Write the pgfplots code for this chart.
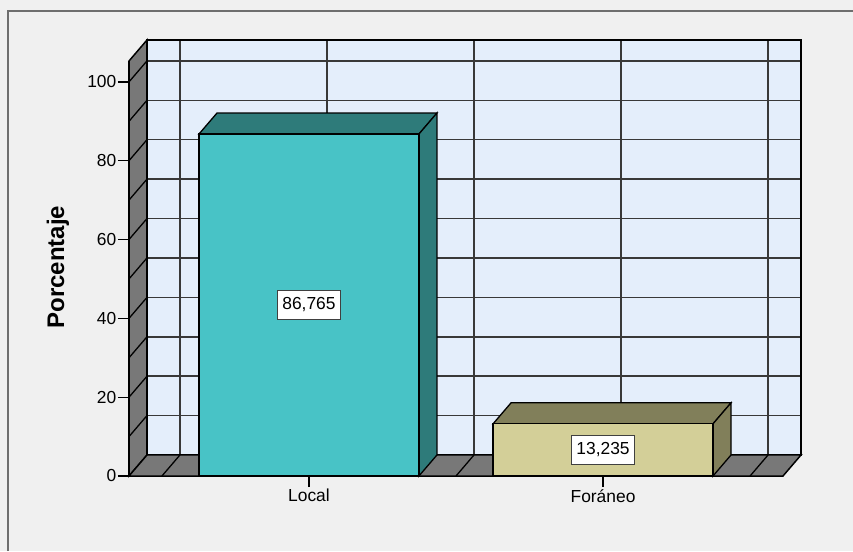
\documentclass[border=0pt]{standalone}
\usepackage{fontspec}
\setmainfont{Liberation Sans}
\setsansfont{Liberation Sans}
\usepackage{pgfplots}
\pgfplotsset{compat=1.18}
\definecolor{bgc}{HTML}{F0F0F0}
\definecolor{bordc}{HTML}{6E6E6E}
\definecolor{wallc}{HTML}{E4EEFB}
\definecolor{sidec}{HTML}{787878}
\definecolor{gridc}{HTML}{383838}
\definecolor{localf}{HTML}{48C3C6}
\definecolor{locald}{HTML}{2E7B7A}
\definecolor{forf}{HTML}{D3CF98}
\definecolor{ford}{HTML}{817F5A}
\begin{document}
\begin{tikzpicture}[x=1pt,y=1pt]
\useasboundingbox (0,0) rectangle (853,551);
\fill[bgc] (0,0) rectangle (853,551);
\draw[bordc, line width=2pt] (8,0) -- (8,540) -- (853,540);
\begin{axis}[
  at={(129pt,75pt)}, anchor=south west,
  scale only axis, width=654pt, height=415pt,
  xmin=0.388, xmax=2.612, ymin=0, ymax=105.3,
  clip=false,
  axis x line*=bottom, axis y line*=left,
  axis line style={black, line width=1.5pt},
  xtick={1,2}, xticklabels={Local,Foráneo},
  ytick={0,20,40,60,80,100},
  tick align=outside, major tick length=11pt,
  tick style={black, line width=1.3pt},
  /pgf/number format/assume math mode=true,
  ticklabel style={font=\fontsize{17.4}{20}\selectfont},
  yticklabel style={inner sep=1.5pt},
  xticklabel style={inner sep=2pt},
  ylabel={Porcentaje},
  ylabel style={font=\bfseries\fontsize{24}{28}\selectfont, at={(rel axis cs:-0.1086,0.503)}, anchor=center},
]
% back wall
\addplot[fill=wallc, draw=none] coordinates {(0.4492,5.33) (2.6732,5.33) (2.6732,110.63) (0.4492,110.63)} -- cycle;
\pgfplotsinvokeforeach{15.33,25.33,35.33,45.33,55.33,65.33,75.33,85.33,95.33,105.33}{
  \draw[gridc, line width=1.5pt] (axis cs:0.4492,#1) -- (axis cs:2.6732,#1);
}
\pgfplotsinvokeforeach{0.5612,1.0612,1.5612,2.0612,2.5612}{
  \draw[gridc, line width=1.5pt] (axis cs:#1,5.33) -- (axis cs:#1,110.63);
}
\addplot[draw=black, line width=1.5pt] coordinates {(0.4492,5.33) (2.6732,5.33) (2.6732,110.63) (0.4492,110.63)} -- cycle;
% left wall
\addplot[fill=sidec, draw=black, line width=1.5pt] coordinates {(0.388,0) (0.4492,5.33) (0.4492,110.63) (0.388,105.3)} -- cycle;
\pgfplotsinvokeforeach{10,20,30,40,50,60,70,80,90,100}{
  \draw[black, line width=1.3pt] (axis cs:0.388,#1) -- (axis cs:0.4492,#1+5.33);
}
% floor
\addplot[fill=sidec, draw=black, line width=1.5pt] coordinates {(0.388,0) (2.612,0) (2.6732,5.33) (0.4492,5.33)} -- cycle;
\pgfplotsinvokeforeach{0.5,1,1.5,2,2.5}{
  \draw[black, line width=1.3pt] (axis cs:#1,0) -- (axis cs:#1+0.0612,5.33);
}
% Local bar
\addplot[fill=locald, draw=black, line width=1.3pt] coordinates {(0.626,86.765) (1.374,86.765) (1.4352,92.095) (0.6872,92.095)} -- cycle;
\addplot[fill=locald, draw=black, line width=1.3pt] coordinates {(1.374,0) (1.4352,5.33) (1.4352,92.095) (1.374,86.765)} -- cycle;
\addplot[ybar, bar width=0.748, fill=localf, draw=black, line width=1.3pt] coordinates {(1,86.765)};
% Foraneo bar
\addplot[fill=ford, draw=black, line width=1.3pt] coordinates {(1.626,13.235) (2.374,13.235) (2.4352,18.565) (1.6872,18.565)} -- cycle;
\addplot[fill=ford, draw=black, line width=1.3pt] coordinates {(2.374,0) (2.4352,5.33) (2.4352,18.565) (2.374,13.235)} -- cycle;
\addplot[ybar, bar width=0.748, fill=forf, draw=black, line width=1.3pt] coordinates {(2,13.235)};
% value labels
\node[fill=white, draw=black!75, line width=1pt, inner xsep=5pt, inner ysep=7pt, font=\fontsize{17.4}{20}\selectfont] at (axis cs:1,43.38) {86,765};
\node[fill=white, draw=black!75, line width=1pt, inner xsep=5pt, inner ysep=7pt, font=\fontsize{17.4}{20}\selectfont] at (axis cs:2,6.62) {13,235};
\end{axis}
\end{tikzpicture}
\end{document}
